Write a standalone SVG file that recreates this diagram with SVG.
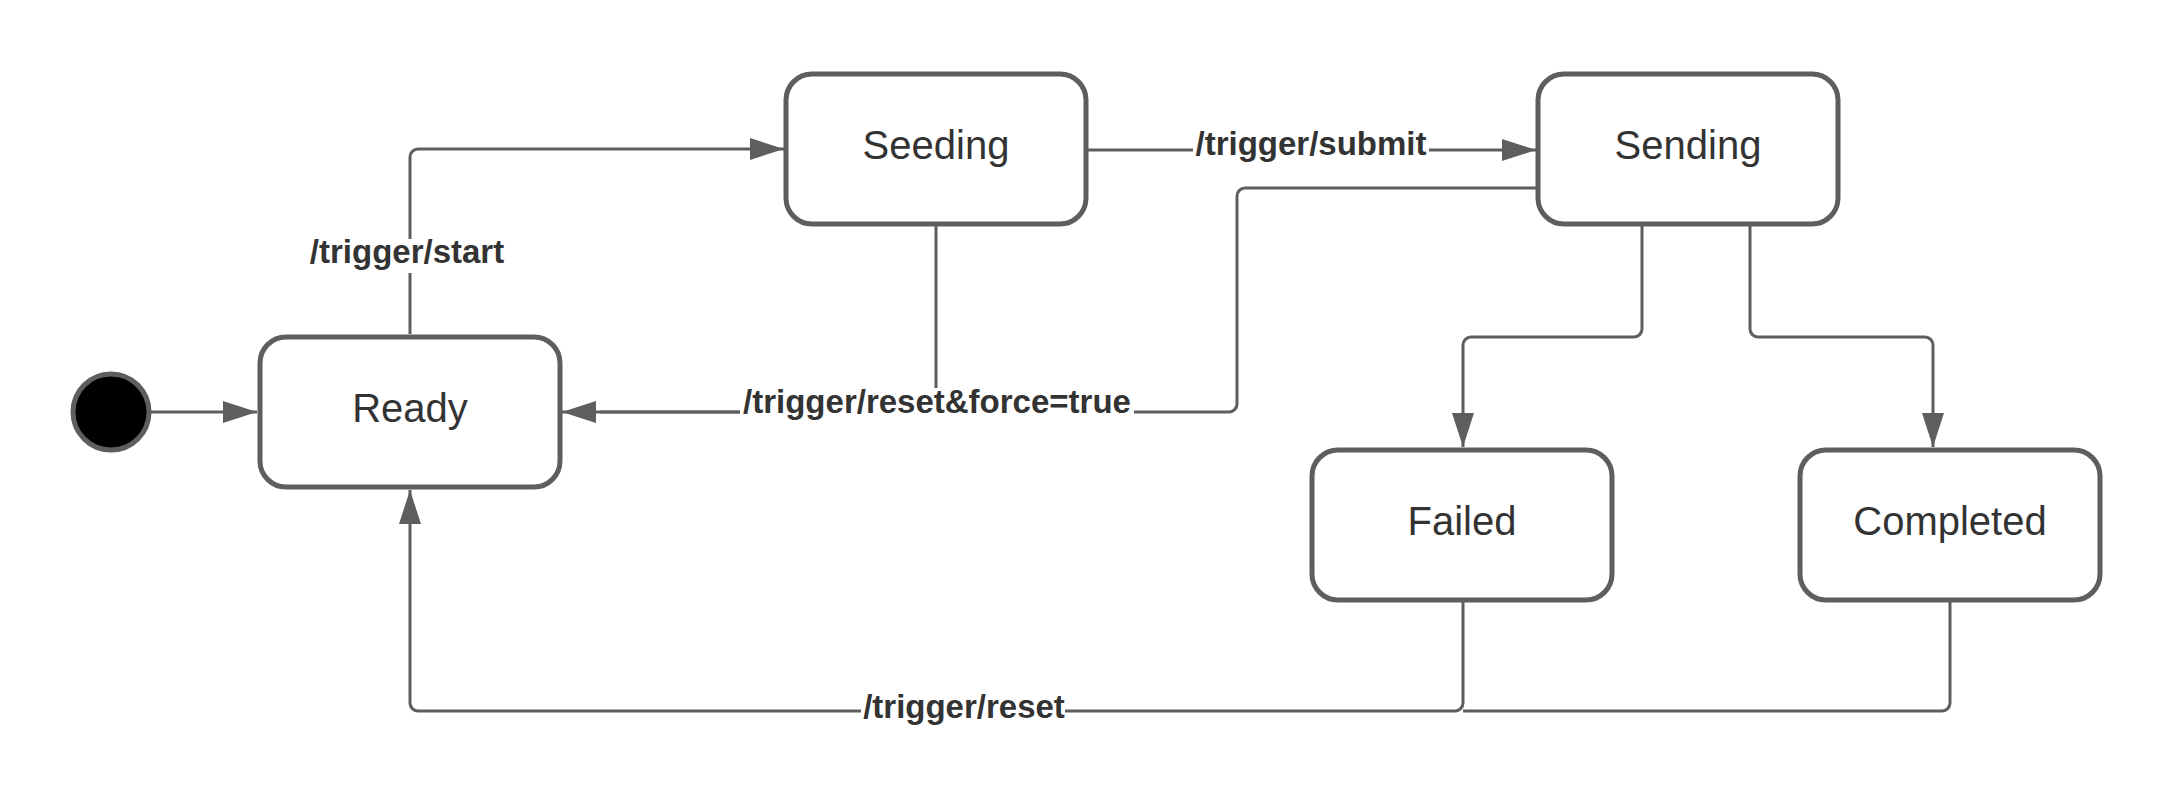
<svg xmlns="http://www.w3.org/2000/svg" width="2175" height="808" viewBox="0 0 2175 808">
<style>
.node rect{fill:#ffffff;stroke:#5e5e5e;stroke-width:5}
.node text{font-family:"Liberation Sans",Arial,sans-serif;font-size:40px;fill:#333333;text-anchor:middle}
.edge{fill:none;stroke:#5e5e5e;stroke-width:3}
.lbl{font-family:"Liberation Sans",Arial,sans-serif;font-size:33px;font-weight:bold;fill:#333333;text-anchor:middle}
.bg{fill:#ffffff}
</style>
<defs>
<marker id="arr" markerUnits="userSpaceOnUse" markerWidth="34" markerHeight="22" refX="34" refY="11" orient="auto">
<path d="M0,0 L34,11 L0,22 z" fill="#5e5e5e"/>
</marker>
</defs>
<rect width="2175" height="808" fill="#ffffff"/>
<g id="connectors">
<path class="edge" d="M151,412 H257" marker-end="url(#arr)"/>
<path class="edge" d="M410,334 V157 A8,8 0 0 1 418,149 H784" marker-end="url(#arr)"/>
<path class="edge" d="M1088,150 H1536" marker-end="url(#arr)"/>
<path class="edge" d="M936,226 V412 H562" marker-end="url(#arr)"/>
<path class="edge" d="M1536,188 H1245 A8,8 0 0 0 1237,196 V404 A8,8 0 0 1 1229,412 H600"/>
<path class="edge" d="M1642,226 V329 A8,8 0 0 1 1634,337 H1471 A8,8 0 0 0 1463,345 V447" marker-end="url(#arr)"/>
<path class="edge" d="M1750,226 V329 A8,8 0 0 0 1758,337 H1925 A8,8 0 0 1 1933,345 V447" marker-end="url(#arr)"/>
<path class="edge" d="M1463,602 V703 A8,8 0 0 1 1455,711 H418 A8,8 0 0 1 410,703 V490" marker-end="url(#arr)"/>
<path class="edge" d="M1950,602 V703 A8,8 0 0 1 1942,711 H1463"/>
<rect class="bg" x="306" y="239" width="202" height="34"/>
<text class="lbl" x="407" y="263">/trigger/start</text>
<rect class="bg" x="1193" y="132" width="236" height="34"/>
<text class="lbl" x="1311" y="155">/trigger/submit</text>
<rect class="bg" x="740" y="388" width="394" height="34"/>
<text class="lbl" x="937" y="413">/trigger/reset&amp;force=true</text>
<rect class="bg" x="861" y="694" width="204" height="34"/>
<text class="lbl" x="964" y="718">/trigger/reset</text>
</g>
<g id="initial">
<circle cx="111" cy="412" r="38" fill="#000000" stroke="#5e5e5e" stroke-width="5"/>
</g>
<g id="ready" class="node">
<rect x="260" y="337" width="300" height="150" rx="26" ry="26"/>
<text x="410" y="422">Ready</text>
</g>
<g id="seeding" class="node">
<rect x="786" y="74" width="300" height="150" rx="26" ry="26"/>
<text x="936" y="159">Seeding</text>
</g>
<g id="sending" class="node">
<rect x="1538" y="74" width="300" height="150" rx="26" ry="26"/>
<text x="1688" y="159">Sending</text>
</g>
<g id="failed" class="node">
<rect x="1312" y="450" width="300" height="150" rx="26" ry="26"/>
<text x="1462" y="535">Failed</text>
</g>
<g id="completed" class="node">
<rect x="1800" y="450" width="300" height="150" rx="26" ry="26"/>
<text x="1950" y="535">Completed</text>
</g>
</svg>
